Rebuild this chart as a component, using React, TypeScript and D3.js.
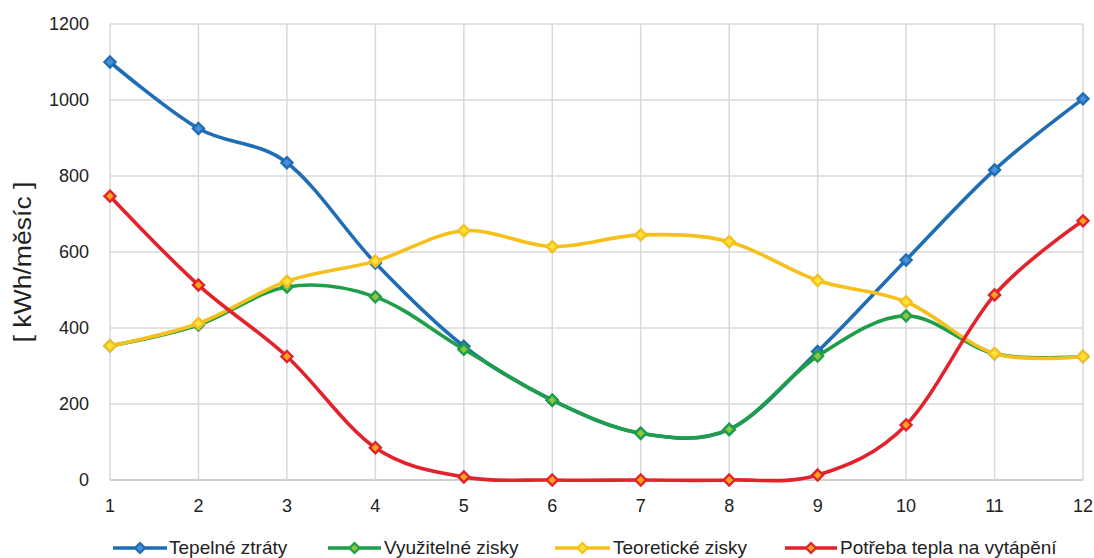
import React from "react";
import * as d3 from "d3";

// Months 1–12
const months = [1, 2, 3, 4, 5, 6, 7, 8, 9, 10, 11, 12];

// Monthly energy balance [kWh/month]
const tepelneZtraty = [1100, 925, 835, 571, 352, 210, 123, 133, 338, 579, 816, 1003];
const vyuzitelneZisky = [353, 408, 508, 482, 344, 210, 123, 133, 326, 432, 332, 325];
const teoretickeZisky = [353, 412, 523, 576, 656, 614, 645, 627, 525, 469, 333, 325];
const potrebaTepla = [747, 513, 325, 85, 8, 0, 0, 0, 13, 145, 487, 682];

const yTicks = [0, 200, 400, 600, 800, 1000, 1200];

const seriesNames = [
  "Tepelné ztráty",
  "Využitelné zisky",
  "Teoretické zisky",
  "Potřeba tepla na vytápění",
];

const W = 1094;
const H = 558;

type Series = { name: string; values: number[]; color: string; fill: string };

const series: Series[] = [
  { name: seriesNames[0], values: tepelneZtraty, color: "#1f6db4", fill: "#4a8fd6" },
  { name: seriesNames[1], values: vyuzitelneZisky, color: "#1f9e4a", fill: "#8dc63f" },
  { name: seriesNames[2], values: teoretickeZisky, color: "#f5bf1c", fill: "#ffe23a" },
  { name: seriesNames[3], values: potrebaTepla, color: "#e2232b", fill: "#f8a51c" },
];

const diamond = (r: number) => `M0,${-r}L${r},0L0,${r}L${-r},0Z`;

// Legend layout: [line start, line end, text start]
const legendX = [
  [113, 167, 169],
  [328, 381, 384],
  [555, 610, 613],
  [785, 837, 840],
];

export default function App() {
  const x = d3.scaleLinear().domain([1, 12]).range([110, 1083]);
  const y = d3.scaleLinear().domain([0, 1200]).range([480, 24]);

  const line = d3
    .line<number>()
    .x((_, i) => x(months[i]))
    .y((v) => y(v))
    .curve(d3.curveCatmullRom.alpha(0));

  const font = "'Liberation Sans', Arial, sans-serif";

  return (
    <svg
      width={W}
      height={H}
      style={{ position: "absolute", left: 0, top: 0, background: "#fff" }}
      fontFamily={font}
    >
      <rect x={0} y={0} width={W} height={H} fill="#ffffff" />

      {/* gridlines */}
      {yTicks.map((t) => (
        <line
          key={"h" + t}
          x1={x(1)}
          x2={x(12)}
          y1={y(t)}
          y2={y(t)}
          stroke={t === 0 ? "#bfbfbf" : "#d9d9d9"}
          strokeWidth={1.5}
        />
      ))}
      {months.map((m) => (
        <line
          key={"v" + m}
          x1={x(m)}
          x2={x(m)}
          y1={y(0)}
          y2={y(1200)}
          stroke="#d9d9d9"
          strokeWidth={1.5}
        />
      ))}

      {/* y tick labels */}
      {yTicks.map((t) => (
        <text
          key={"yl" + t}
          x={89}
          y={y(t)}
          dy="0.36em"
          textAnchor="end"
          fontSize={18}
          fill="#222"
        >
          {t}
        </text>
      ))}

      {/* x tick labels */}
      {months.map((m) => (
        <text key={"xl" + m} x={x(m)} y={512} textAnchor="middle" fontSize={18} fill="#222">
          {m}
        </text>
      ))}

      {/* y axis title */}
      <text
        transform={`translate(31,262) rotate(-90)`}
        textAnchor="middle"
        fontSize={23}
        fill="#222"
        textLength={161}
        lengthAdjust="spacingAndGlyphs"
      >
        [ kWh/měsíc ]
      </text>

      {/* series */}
      {series.map((s) => (
        <g key={s.name}>
          <path
            d={line(s.values) || ""}
            fill="none"
            stroke={s.color}
            strokeWidth={3.6}
            strokeLinejoin="round"
            strokeLinecap="round"
          />
          {s.values.map((v, i) => (
            <path
              key={i}
              d={diamond(5.5)}
              transform={`translate(${x(months[i])},${y(v)})`}
              fill={s.fill}
              stroke={s.color}
              strokeWidth={2.4}
            />
          ))}
        </g>
      ))}

      {/* legend */}
      {series.map((s, i) => {
        const [x1, x2, tx] = legendX[i];
        const cx = (x1 + x2) / 2;
        return (
          <g key={"lg" + i}>
            <line x1={x1} x2={x2} y1={548} y2={548} stroke={s.color} strokeWidth={3.6} />
            <path
              d={diamond(5)}
              transform={`translate(${cx},548)`}
              fill={s.fill}
              stroke={s.color}
              strokeWidth={2.2}
            />
            <text x={tx} y={554} fontSize={19} fill="#222">
              {s.name}
            </text>
          </g>
        );
      })}
    </svg>
  );
}
